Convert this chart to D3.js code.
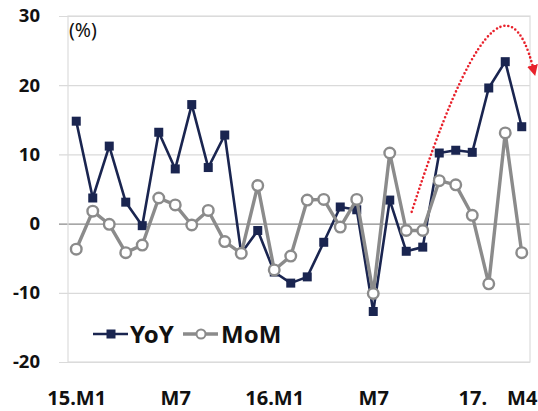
<!DOCTYPE html>
<html>
<head>
<meta charset="utf-8">
<script src="https://cdn.jsdelivr.net/npm/d3@7"></script>
<style>
  html, body { margin: 0; padding: 0; background: #fff; }
  svg { display: block; font-family: "Noto Sans", "DejaVu Sans", sans-serif; }
</style>
</head>
<body>
<svg id="chart" width="538" height="411"></svg>
<script>
// Monthly growth rates (%), 2015.M1 – 2017.M4
const months = [
  "15.M1","15.M2","15.M3","15.M4","15.M5","15.M6","15.M7","15.M8","15.M9","15.M10","15.M11","15.M12",
  "16.M1","16.M2","16.M3","16.M4","16.M5","16.M6","16.M7","16.M8","16.M9","16.M10","16.M11","16.M12",
  "17.M1","17.M2","17.M3","17.M4"
];
const yoy = [
  14.8, 3.7, 11.2, 3.1, -0.3, 13.2, 7.9, 17.2, 8.1, 12.8, -4.3, -1.0,
  -7.0, -8.6, -7.7, -2.7, 2.4, 2.0, -12.7, 3.4, -4.0, -3.4, 10.2, 10.6,
  10.3, 19.6, 23.4, 14.0
];
const mom = [
  -3.7, 1.8, -0.1, -4.2, -3.1, 3.7, 2.7, -0.2, 1.9, -2.6, -4.3, 5.5,
  -6.7, -4.7, 3.4, 3.5, -0.5, 3.5, -10.1, 10.2, -1.0, -1.0, 6.2, 5.6,
  1.2, -8.7, 13.1, -4.2
];
const yTicks = [-20, -10, 0, 10, 20, 30];
const xLabels = { "15.M1": "15.M1", "15.M7": "M7", "16.M1": "16.M1", "16.M7": "M7", "17.M1": "17.", "17.M4": "M4" };
// Trend arrow: [month index, value] for start, control and end of the curve
const trendArrow = [[20.33, 1.7], [25.68, 41.5], [27.7, 22.4]];

const svg = d3.select("#chart");
const plot = { left: 68, right: 530, top: 16, bottom: 362 };

const x = d3.scalePoint().domain(months).range([plot.left, plot.right]).padding(0.5);
const y = d3.scaleLinear().domain([-20, 30]).range([plot.bottom, plot.top]);
const xi = i => x(months[0]) + i * x.step();

// gridlines and frame
const yAxis = d3.axisLeft(y).tickValues(yTicks).tickSize(-(plot.right - plot.left)).tickFormat(d => d).tickPadding(14);
const gy = svg.append("g").attr("transform", `translate(${plot.left},0)`).call(yAxis);
gy.select(".domain").remove();
gy.selectAll(".tick line").attr("stroke", "#dadada").attr("stroke-width", 1.2).attr("x1", -9);
gy.selectAll(".tick text")
  .attr("fill", "#111").attr("font-size", 18.5).attr("font-weight", "bold")
  .attr("font-family", "'Noto Sans', sans-serif").attr("dx", -14);
gy.selectAll(".tick").filter(d => d === 0).select("line").attr("stroke", "#8a8a8a").attr("stroke-width", 1.4);

svg.append("rect")
  .attr("x", plot.left).attr("y", plot.top)
  .attr("width", plot.right - plot.left).attr("height", plot.bottom - plot.top)
  .attr("fill", "none").attr("stroke", "#dcdcdc").attr("stroke-width", 1.2);

// category labels
const xAxis = d3.axisBottom(x).tickValues(Object.keys(xLabels)).tickSize(0).tickPadding(0).tickFormat(d => xLabels[d]);
const gx = svg.append("g").attr("transform", `translate(0,${plot.bottom})`).call(xAxis);
gx.select(".domain").remove();
gx.selectAll(".tick text")
  .attr("fill", "#111").attr("font-size", 20).attr("font-weight", "bold")
  .attr("font-family", "'Noto Sans', sans-serif").attr("dy", "2.15em");

// unit label
svg.append("text").attr("x", plot.left + 1).attr("y", 37)
  .attr("font-size", 19.5).attr("fill", "#111").text("(%)");

const navy = "#1a2550";
const grey = "#8b8b8b";

// YoY series
svg.append("path").datum(yoy)
  .attr("fill", "none").attr("stroke", navy).attr("stroke-width", 2.6).attr("stroke-linejoin", "round")
  .attr("d", d3.line().x((d, i) => x(months[i])).y(d => y(d)));
svg.append("g").selectAll("rect").data(yoy).join("rect")
  .attr("x", (d, i) => x(months[i]) - 4.5).attr("y", d => y(d) - 4.5)
  .attr("width", 9).attr("height", 9).attr("fill", navy);

// MoM series
svg.append("path").datum(mom)
  .attr("fill", "none").attr("stroke", grey).attr("stroke-width", 3.4).attr("stroke-linejoin", "round")
  .attr("d", d3.line().x((d, i) => x(months[i])).y(d => y(d)));
svg.append("g").selectAll("circle").data(mom).join("circle")
  .attr("cx", (d, i) => x(months[i])).attr("cy", d => y(d)).attr("r", 5.3)
  .attr("fill", "#fff").attr("stroke", grey).attr("stroke-width", 2.4);

// dotted trend arrow
const defs = svg.append("defs");
defs.append("marker").attr("id", "arrowHead")
  .attr("viewBox", "0 0 10 10").attr("refX", 3).attr("refY", 5)
  .attr("markerWidth", 11).attr("markerHeight", 11).attr("markerUnits", "userSpaceOnUse")
  .attr("orient", "auto")
  .append("path").attr("d", "M0,0 L10,5 L0,10 Z").attr("fill", "#e8202a");
const [p0, c, p1] = trendArrow.map(([i, v]) => [xi(i), y(v)]);
const arrowPath = d3.path();
arrowPath.moveTo(p0[0], p0[1]);
arrowPath.quadraticCurveTo(c[0], c[1], p1[0], p1[1]);
svg.append("path").attr("d", arrowPath.toString())
  .attr("fill", "none").attr("stroke", "#e8202a").attr("stroke-width", 2.6)
  .attr("stroke-dasharray", "0 4").attr("stroke-linecap", "round")
  .attr("marker-end", "url(#arrowHead)");

// legend
const lg = svg.append("g").attr("transform", "translate(93,334)");
lg.append("line").attr("x1", 0).attr("x2", 35).attr("stroke", navy).attr("stroke-width", 2.6);
lg.append("rect").attr("x", 13.5).attr("y", -4.5).attr("width", 9).attr("height", 9).attr("fill", navy);
lg.append("text").attr("x", 37).attr("y", 9).attr("font-size", 24).attr("font-weight", "bold").attr("fill", "#111").text("YoY");
lg.append("line").attr("x1", 90).attr("x2", 125).attr("stroke", grey).attr("stroke-width", 3.4);
lg.append("circle").attr("cx", 108).attr("cy", 0).attr("r", 4.5).attr("fill", "#fff").attr("stroke", grey).attr("stroke-width", 2);
lg.append("text").attr("x", 128).attr("y", 9).attr("font-size", 24).attr("font-weight", "bold").attr("fill", "#111").text("MoM");
</script>
</body>
</html>
